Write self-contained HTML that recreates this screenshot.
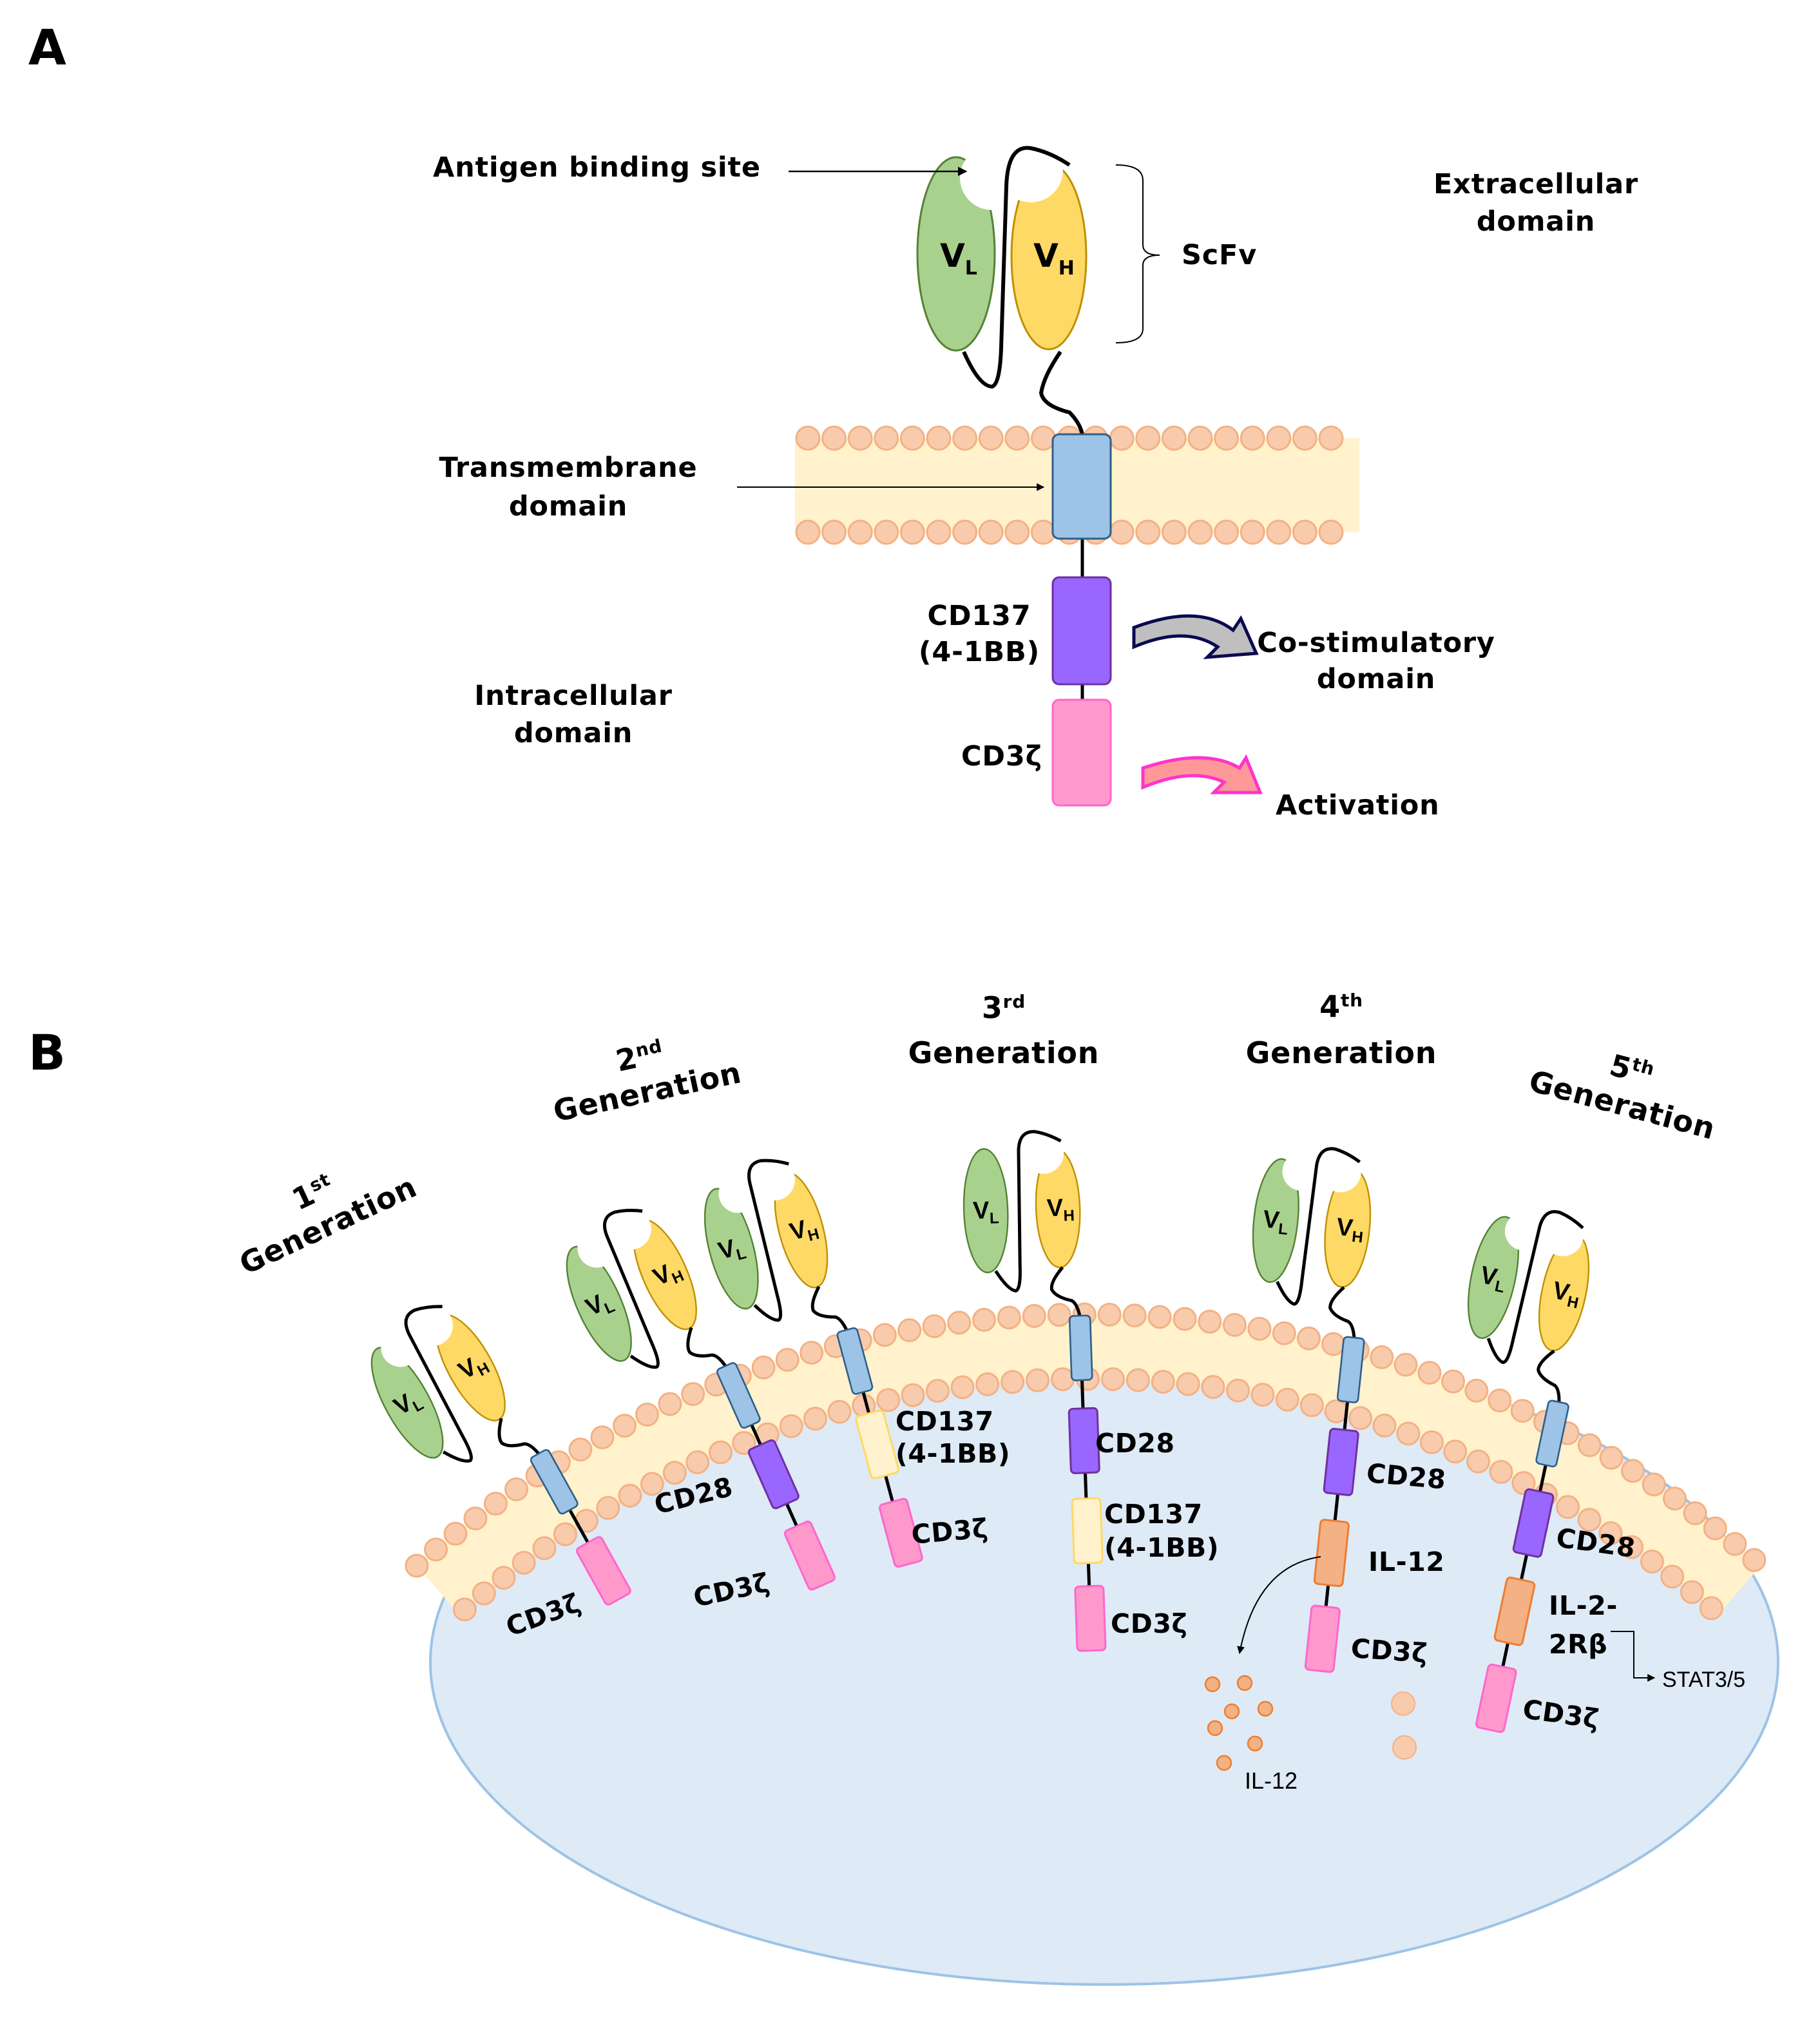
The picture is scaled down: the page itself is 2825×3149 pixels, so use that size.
<!DOCTYPE html>
<html><head><meta charset="utf-8"><style>
html,body{margin:0;padding:0;background:#fff;}
svg{display:block;}
text{font-family:"Liberation Sans",Arial,sans-serif;}
.b,.b text{font-weight:bold;font-family:"DejaVu Sans","Liberation Sans",sans-serif;}
</style></head><body>
<svg id="s" width="2825" height="3149" viewBox="0 0 1412.5 1574.5" xmlns="http://www.w3.org/2000/svg">
<defs>
<marker id="ar" viewBox="0 0 10 10" refX="9" refY="5" markerWidth="6" markerHeight="6" orient="auto"><path d="M0,0 L10,5 L0,10 Z" fill="#000"/></marker>
</defs>
<rect width="1412.5" height="1574.5" fill="#fff"/>
<!-- PANEL A -->
<text x="22" y="50" class="b" font-size="38">A</text>
<g id="memA"></g>
<ellipse cx="742" cy="197" rx="30" ry="75" fill="#a9d18e" stroke="#548235" stroke-width="1.5"/>
<circle cx="770" cy="138" r="25" fill="#fff"/>
<ellipse cx="814" cy="199" rx="29" ry="72" fill="#ffd966" stroke="#bf9000" stroke-width="1.5"/>
<circle cx="800" cy="132" r="25" fill="#fff"/>
<path d="M748,273 Q760,300 770,300 Q776,298 777,270 L781,145 Q782,112 800,115 Q815,118 830,128" fill="none" stroke="#000" stroke-width="3"/>
<path d="M823,273 Q810,292 808,305 Q810,315 830,320 Q838,328 840,337" fill="none" stroke="#000" stroke-width="3"/>
<text x="744" y="207" class="b" font-size="25" text-anchor="middle">V<tspan font-size="15" dy="6">L</tspan></text>
<text x="818" y="207" class="b" font-size="25" text-anchor="middle">V<tspan font-size="15" dy="6">H</tspan></text>
<line x1="840" y1="418" x2="840" y2="545" stroke="#000" stroke-width="2.5"/>
<rect x="817" y="337" width="45" height="81" rx="5" fill="#9dc3e6" stroke="#2e5f8a" stroke-width="1.5"/>
<rect x="817" y="448" width="45" height="83" rx="5" fill="#9966ff" stroke="#7030a0" stroke-width="1.5"/>
<rect x="817" y="543" width="45" height="82" rx="5" fill="#ff99cc" stroke="#ff66cc" stroke-width="1.5"/>
<g class="b" font-size="21.5" letter-spacing="0.4">
<text x="336" y="137">Antigen binding site</text>
<text x="1192" y="150" text-anchor="middle">Extracellular</text>
<text x="1192" y="179" text-anchor="middle">domain</text>
<text x="917" y="205">ScFv</text>
<text x="441" y="370" text-anchor="middle">Transmembrane</text>
<text x="441" y="400" text-anchor="middle">domain</text>
<text x="760" y="485" text-anchor="middle">CD137</text>
<text x="760" y="513" text-anchor="middle">(4-1BB)</text>
<text x="445" y="547" text-anchor="middle">Intracellular</text>
<text x="445" y="576" text-anchor="middle">domain</text>
<text x="746" y="594">CD3ζ</text>
<text x="1068" y="506" text-anchor="middle">Co-stimulatory</text>
<text x="1068" y="534" text-anchor="middle">domain</text>
<text x="990" y="632">Activation</text>
</g>
<line x1="612" y1="133" x2="750" y2="133" stroke="#000" stroke-width="1.2" marker-end="url(#ar)"/>
<path d="M866,128 Q887,128 887,140 L887,190 Q887,198 900,198 Q887,198 887,206 L887,255 Q887,266 866,266" fill="none" stroke="#000" stroke-width="1"/>
<line x1="572" y1="378" x2="810" y2="378" stroke="#000" stroke-width="1" marker-end="url(#ar)"/>
<path d="M880,487 Q930,468 957,489 L963,480 L975,507 L937,510 L945,502 Q920,485 880,502 Z" fill="#bfbfbf" stroke="#0a0a50" stroke-width="2.5"/>
<path d="M887,596 Q935,580 962,596 L967,588 L978,615 L942,615 L950,607 Q925,595 887,611 Z" fill="#ff9999" stroke="#ff33cc" stroke-width="2.5"/>

<!-- PANEL B -->
<text x="22" y="830" class="b" font-size="38">B</text>
<ellipse cx="857" cy="1290" rx="523" ry="250" fill="#deeaf6" stroke="#9dc3e6" stroke-width="2"/>
<g id="memB"></g>
<g id="recs"></g>

<g class="b" font-size="23" letter-spacing="0.4">
<text transform="translate(258,958) rotate(-25)" text-anchor="middle"><tspan x="0" y="-28">1<tspan font-size="14" dy="-8">st</tspan></tspan><tspan x="0" y="0">Generation</tspan></text>
<text transform="translate(504,855) rotate(-12)" text-anchor="middle"><tspan x="0" y="-28">2<tspan font-size="14" dy="-8">nd</tspan></tspan><tspan x="0" y="0">Generation</tspan></text>
<text x="779" y="790" text-anchor="middle">3<tspan font-size="14" dy="-8">rd</tspan></text>
<text x="779" y="825" text-anchor="middle">Generation</text>
<text x="1041" y="789" text-anchor="middle">4<tspan font-size="14" dy="-8">th</tspan></text>
<text x="1041" y="825" text-anchor="middle">Generation</text>
<text transform="translate(1257,865) rotate(15)" text-anchor="middle"><tspan x="0" y="-28">5<tspan font-size="14" dy="-8">th</tspan></tspan><tspan x="0" y="0">Generation</tspan></text>
</g>
<g class="b" font-size="20.5" letter-spacing="0.3">
<text transform="translate(396,1270) rotate(-20)">CD3ζ</text>
<text transform="translate(510,1175) rotate(-14)">CD28</text>
<text transform="translate(540,1247) rotate(-12)">CD3ζ</text>
<text x="695" y="1110">CD137</text>
<text x="695" y="1135">(4-1BB)</text>
<text transform="translate(708,1198) rotate(-5)">CD3ζ</text>
<text x="850" y="1127">CD28</text>
<text x="857" y="1182">CD137</text>
<text x="857" y="1208">(4-1BB)</text>
<text x="862" y="1267">CD3ζ</text>
<text transform="translate(1060,1150) rotate(5)">CD28</text>
<text x="1062" y="1219">IL-12</text>
<text transform="translate(1048,1286) rotate(4)">CD3ζ</text>
<text transform="translate(1207,1200) rotate(8)">CD28</text>
<text x="1202" y="1253">IL-2-</text>
<text x="1202" y="1283">2Rβ</text>
<text transform="translate(1181,1333) rotate(8)">CD3ζ</text>
</g>
<path d="M1250,1266 L1268,1266 L1268,1302 L1284,1302" fill="none" stroke="#000" stroke-width="1" marker-end="url(#ar)"/>
<text x="1290" y="1309" font-size="17">STAT3/5</text>
<path d="M1025,1208 Q975,1215 962,1283" fill="none" stroke="#000" stroke-width="1" marker-end="url(#ar)"/>
<g fill="#f4b183" stroke="#ed7d31" stroke-width="1.2">
<circle cx="941" cy="1307" r="5.5"/><circle cx="966" cy="1306" r="5.5"/><circle cx="956" cy="1328" r="5.5"/><circle cx="982" cy="1326" r="5.5"/><circle cx="943" cy="1341" r="5.5"/><circle cx="974" cy="1353" r="5.5"/><circle cx="950" cy="1368" r="5.5"/>
</g>
<circle cx="1089" cy="1322" r="9" fill="#f8cbad" stroke="#f4b183"/>
<circle cx="1090" cy="1356" r="9" fill="#f8cbad" stroke="#f4b183"/>
<text x="966" y="1388" font-size="18">IL-12</text>
</svg>
<script>
var NS="http://www.w3.org/2000/svg";
function el(t,a,p){var e=document.createElementNS(NS,t);for(var k in a)e.setAttribute(k,a[k]);p.appendChild(e);return e;}
var mA=document.getElementById('memA');
el('rect',{x:617,y:340,width:438,height:73,fill:'#fff2cc'},mA);
for(var x=627;x<=1048;x+=20.3){
 el('circle',{cx:x,cy:340,r:9,fill:'#f8cbad',stroke:'#f4b183','stroke-width':1.5},mA);
 el('circle',{cx:x,cy:413,r:9,fill:'#f8cbad',stroke:'#f4b183','stroke-width':1.5},mA);
}
var mB=document.getElementById('memB');
var cx=845,cy=1815,R1=795,R2=745,a0=-41*Math.PI/180,a1=41*Math.PI/180;
function pt(R,a){return [cx+R*Math.sin(a),cy-R*Math.cos(a)];}
var p1=pt(R1,a0),p2=pt(R1,a1),p3=pt(R2,a1),p4=pt(R2,a0);
el('path',{d:'M'+p1+' A'+R1+','+R1+' 0 0 1 '+p2+' L'+p3+' A'+R2+','+R2+' 0 0 0 '+p4+' Z',fill:'#fff2cc'},mB);
[[R1,0],[R2,0.3]].forEach(function(q){var R=q[0],st=19.5/R;
 for(var a=a0+q[1]*st;a<=a1+0.001;a+=st){var p=pt(R,a);el('circle',{cx:p[0],cy:p[1],r:8.5,fill:'#f8cbad',stroke:'#f4b183','stroke-width':1.5},mB);}
});
var C={p:['#9966ff','#7030a0'],y:['#fff2cc','#ffd966'],k:['#ff99cc','#ff66cc'],o:['#f4b183','#ed7d31']};
var recs=[
 {x:418,y:1128,a:-29,d:[['k',104]],vb:1},
 {x:563,y:1060,a:-24,d:[['p',92],['k',161]],vb:1},
 {x:657,y:1032,a:-15,d:[['y',92],['k',163]],vb:1},
 {x:838,y:1021,a:-2,d:[['p',97],['y',167],['k',235]],vb:0},
 {x:1051,y:1038,a:6,d:[['p',97],['o',168],['k',235]],vb:1},
 {x:1210,y:1088,a:12,d:[['p',96],['o',166],['k',235]],vb:1}
];
var G=document.getElementById('recs');
recs.forEach(function(r){
 var g=el('g',{transform:'translate('+r.x+','+r.y+') rotate('+r.a+')'},G);
 var last=r.d[r.d.length-1][1];
 el('line',{x1:0,y1:0,x2:0,y2:last,stroke:'#000','stroke-width':2.5},g);
 el('ellipse',{cx:-70,cy:-84,rx:17,ry:48,fill:'#a9d18e',stroke:'#548235','stroke-width':1.2},g);
 if(r.vb)el('circle',{cx:-54,cy:-124,r:15,fill:'#fff'},g);
 el('ellipse',{cx:-14,cy:-84,rx:17,ry:46,fill:'#ffd966',stroke:'#bf9000','stroke-width':1.2},g);
 el('circle',{cx:-24,cy:-127,r:16,fill:'#fff'},g);
 el('path',{d:'M-64,-37 Q-55,-22 -49,-21 Q-45,-22 -45,-40 L-43,-130 Q-42,-145 -30,-144 Q-20,-142 -10,-136',fill:'none',stroke:'#000','stroke-width':2.5},g);
 el('path',{d:'M-12,-38 Q-22,-27 -21,-21 Q-18,-15 -6,-12 Q-2,-10 0,0',fill:'none',stroke:'#000','stroke-width':2.5},g);
 var t=el('text',{x:-70,y:-78,'font-size':19,'font-weight':'bold','font-family':'DejaVu Sans, sans-serif','text-anchor':'middle'},g);t.innerHTML='V<tspan font-size="12" dy="4">L</tspan>';
 t=el('text',{x:-12,y:-78,'font-size':19,'font-weight':'bold','font-family':'DejaVu Sans, sans-serif','text-anchor':'middle'},g);t.innerHTML='V<tspan font-size="12" dy="4">H</tspan>';
 el('rect',{x:-8,y:0,width:16,height:50,rx:3,fill:'#9dc3e6',stroke:'#2e5f8a','stroke-width':1.3},g);
 r.d.forEach(function(d){var c=C[d[0]];el('rect',{x:-11,y:d[1]-25,width:22,height:50,rx:3,fill:c[0],stroke:c[1],'stroke-width':1.5},g);});
});
</script>
</body></html>
